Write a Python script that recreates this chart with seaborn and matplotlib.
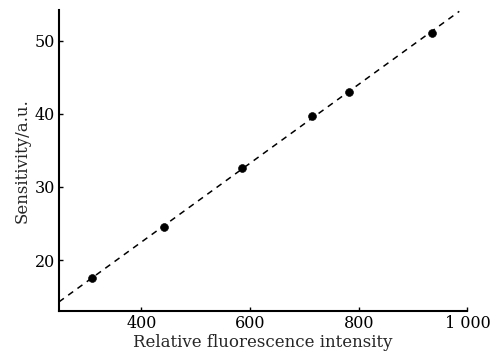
import numpy as np
import pandas as pd
import matplotlib
matplotlib.use("Agg")
import matplotlib.pyplot as plt
import seaborn as sns

# data
intensity = [308, 442, 585, 713, 782, 934]
sensitivity = [17.5, 24.5, 32.6, 39.7, 43.0, 51.1]
x_ticks = [400, 600, 800, 1000]
x_tick_labels = ["400", "600", "800", "1 000"]
y_ticks = [20, 30, 40, 50]

sns.set_theme(style="ticks")
plt.rcParams['font.family'] = ['DejaVu Serif']

df = pd.DataFrame({"x": intensity, "y": sensitivity})

# least squares line through the points
slope, icpt = np.polyfit(intensity, sensitivity, 1)
x_fit = np.array([248, 985])
fit = pd.DataFrame({"x": x_fit, "y": slope * x_fit + icpt})

fig = plt.figure(figsize=(4.91, 3.61), dpi=100)
ax = fig.add_axes([0.120, 0.138, 0.832, 0.834])

sns.lineplot(data=fit, x="x", y="y", ax=ax, color="black",
             linestyle=(0, (4, 3.5)), linewidth=1.1)
sns.scatterplot(data=df, x="x", y="y", ax=ax, color="black",
                s=32, edgecolor="black", zorder=3)

ax.set_xlim(248, 1000)
ax.set_ylim(13, 54.2)
ax.set_xticks(x_ticks)
ax.set_xticklabels(x_tick_labels)
ax.set_yticks(y_ticks)
ax.tick_params(direction="in", length=3, width=1, labelsize=11.5, colors="black", pad=3)

for s in ["top", "right"]:
    ax.spines[s].set_visible(False)
for s in ["left", "bottom"]:
    ax.spines[s].set_linewidth(1.5)
    ax.spines[s].set_color("black")

ax.set_xlabel("Relative fluorescence intensity", fontsize=12, labelpad=1)
ax.set_ylabel("Sensitivity/a.u.", fontsize=12, labelpad=3)

fig.savefig("out.png", dpi=100)
